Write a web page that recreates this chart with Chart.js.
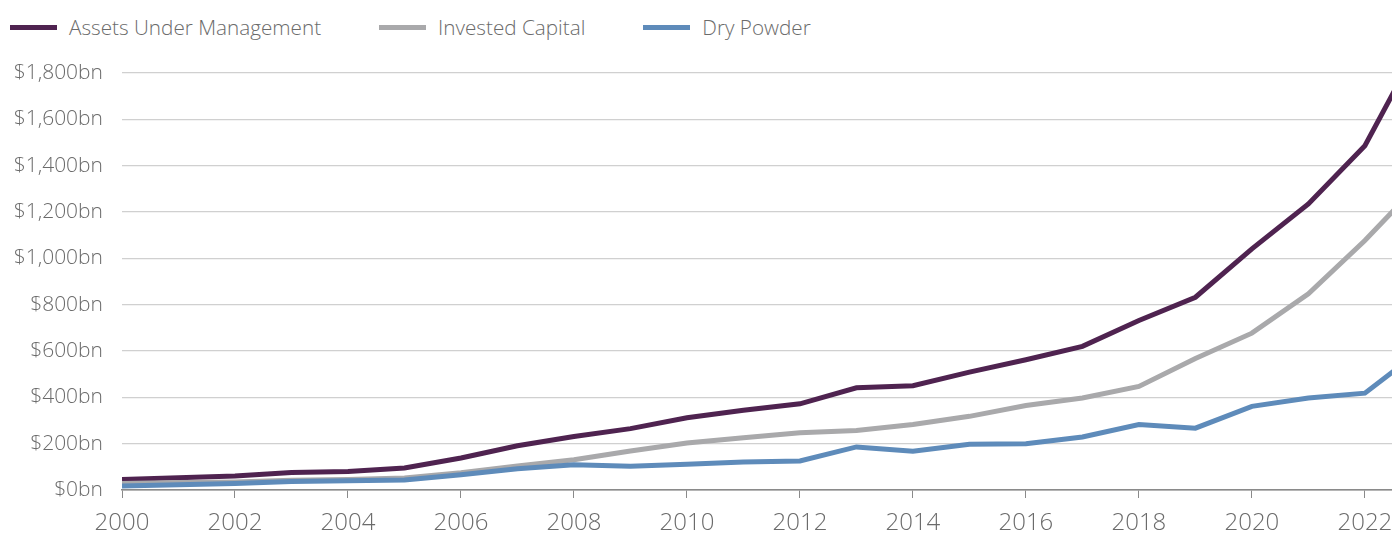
<!DOCTYPE html>
<html lang="en">
<head>
    <meta charset="UTF-8">
    <title>Assets Under Management</title>
    <script src="https://cdn.jsdelivr.net/npm/chart.js"></script>
    <style>
        html, body { margin: 0; padding: 0; background: #fff; }
        body { width: 1392px; height: 534px; position: relative; overflow: hidden; font-family: "Open Sans", Lato, sans-serif; }
        .legend { position: absolute; left: 10px; top: 12px; display: flex; align-items: center; }
        .legend .item { display: flex; align-items: center; margin-right: 58px; }
        .legend .swatch { width: 47px; height: 5px; margin-right: 12px; }
        .legend .label { font-size: 20.7px; font-weight: 300; color: #6b6b6b; line-height: 30px; }
        .wrap { position: absolute; left: 0; top: 0; width: 1392px; height: 534px; }
    </style>
</head>
<body>
    <div class="legend" id="legend"></div>
    <div class="wrap"><canvas id="aumChart" width="1392" height="534"></canvas></div>

    <script>
        // values in $bn
        const years = [2000, 2001, 2002, 2003, 2004, 2005, 2006, 2007, 2008, 2009, 2010, 2011,
                       2012, 2013, 2014, 2015, 2016, 2017, 2018, 2019, 2020, 2021, 2022, 2023];
        const assetsUnderManagement = [45, 53, 60, 76, 80, 95, 138, 191, 231, 265, 312, 344,
                                       372, 441, 450, 509, 562, 620, 732, 832, 1041, 1235, 1486, 1940];
        const investedCapital = [28, 32, 35, 42, 45, 52, 75, 104, 131, 168, 203, 226,
                                 247, 257, 283, 318, 365, 397, 447, 568, 677, 847, 1077, 1332];
        const dryPowder = [17, 23, 28, 37, 40, 43, 66, 92, 109, 102, 111, 121,
                           125, 186, 167, 197, 200, 229, 283, 267, 361, 397, 418, 605];
        const seriesNames = ['Assets Under Management', 'Invested Capital', 'Dry Powder'];
        const seriesColors = ['#4f2350', '#a9a9ab', '#5e8bba'];
        const yTicks = [0, 200, 400, 600, 800, 1000, 1200, 1400, 1600, 1800];

        const toPoints = vals => vals.map((v, i) => ({ x: years[i], y: v }));
        const allSeries = [assetsUnderManagement, investedCapital, dryPowder];

        // legend outside canvas
        const legendEl = document.getElementById('legend');
        seriesNames.forEach((name, i) => {
            const item = document.createElement('div');
            item.className = 'item';
            item.innerHTML = '<span class="swatch" style="background:' + seriesColors[i] + '"></span>' +
                             '<span class="label">' + name + '</span>';
            legendEl.appendChild(item);
        });

        const fontFamily = '"Open Sans", Lato, sans-serif';

        const ctx = document.getElementById('aumChart').getContext('2d');
        const aumChart = new Chart(ctx, {
            type: 'line',
            data: {
                datasets: allSeries.map((vals, i) => ({
                    label: seriesNames[i],
                    data: toPoints(vals),
                    borderColor: seriesColors[i],
                    backgroundColor: seriesColors[i],
                    borderWidth: 5,
                    pointRadius: 0,
                    tension: 0,
                    fill: false,
                    borderJoinStyle: 'miter'
                })).reverse()
            },
            options: {
                responsive: false,
                animation: false,
                layout: { padding: { top: 73, right: 0, bottom: 0, left: 0 } },
                plugins: {
                    legend: { display: false },
                    tooltip: { enabled: false }
                },
                scales: {
                    x: {
                        type: 'linear',
                        min: 2000,
                        max: 2022.48,
                        afterFit: s => { s.height = 44; s.paddingRight = 0; s.paddingLeft = 0; },
                        ticks: {
                            stepSize: 2,
                            includeBounds: false,
                            autoSkip: false,
                            maxRotation: 0,
                            padding: 11,
                            color: '#6b6b6b',
                            font: { family: fontFamily, size: 24, weight: 300 },
                            callback: v => String(v)
                        },
                        grid: {
                            drawOnChartArea: false,
                            drawTicks: true,
                            tickLength: 8,
                            color: '#8a8a8a',
                            lineWidth: 1
                        },
                        border: { display: true, color: '#8a8a8a', width: 1.5 }
                    },
                    y: {
                        min: 0,
                        max: 1800,
                        afterFit: s => { s.width = 122; },
                        afterBuildTicks: s => { s.ticks = yTicks.map(v => ({ value: v })); },
                        ticks: {
                            padding: 19,
                            color: '#6b6b6b',
                            font: { family: fontFamily, size: 21, weight: 300 },
                            callback: v => '$' + v.toLocaleString('en-US') + 'bn'
                        },
                        grid: {
                            drawTicks: false,
                            color: c => c.tick && c.tick.value === 0 ? '#8a8a8a' : '#d0d0d0',
                            lineWidth: 1.2
                        },
                        border: { display: false }
                    }
                }
            }
        });
    </script>
</body>
</html>
